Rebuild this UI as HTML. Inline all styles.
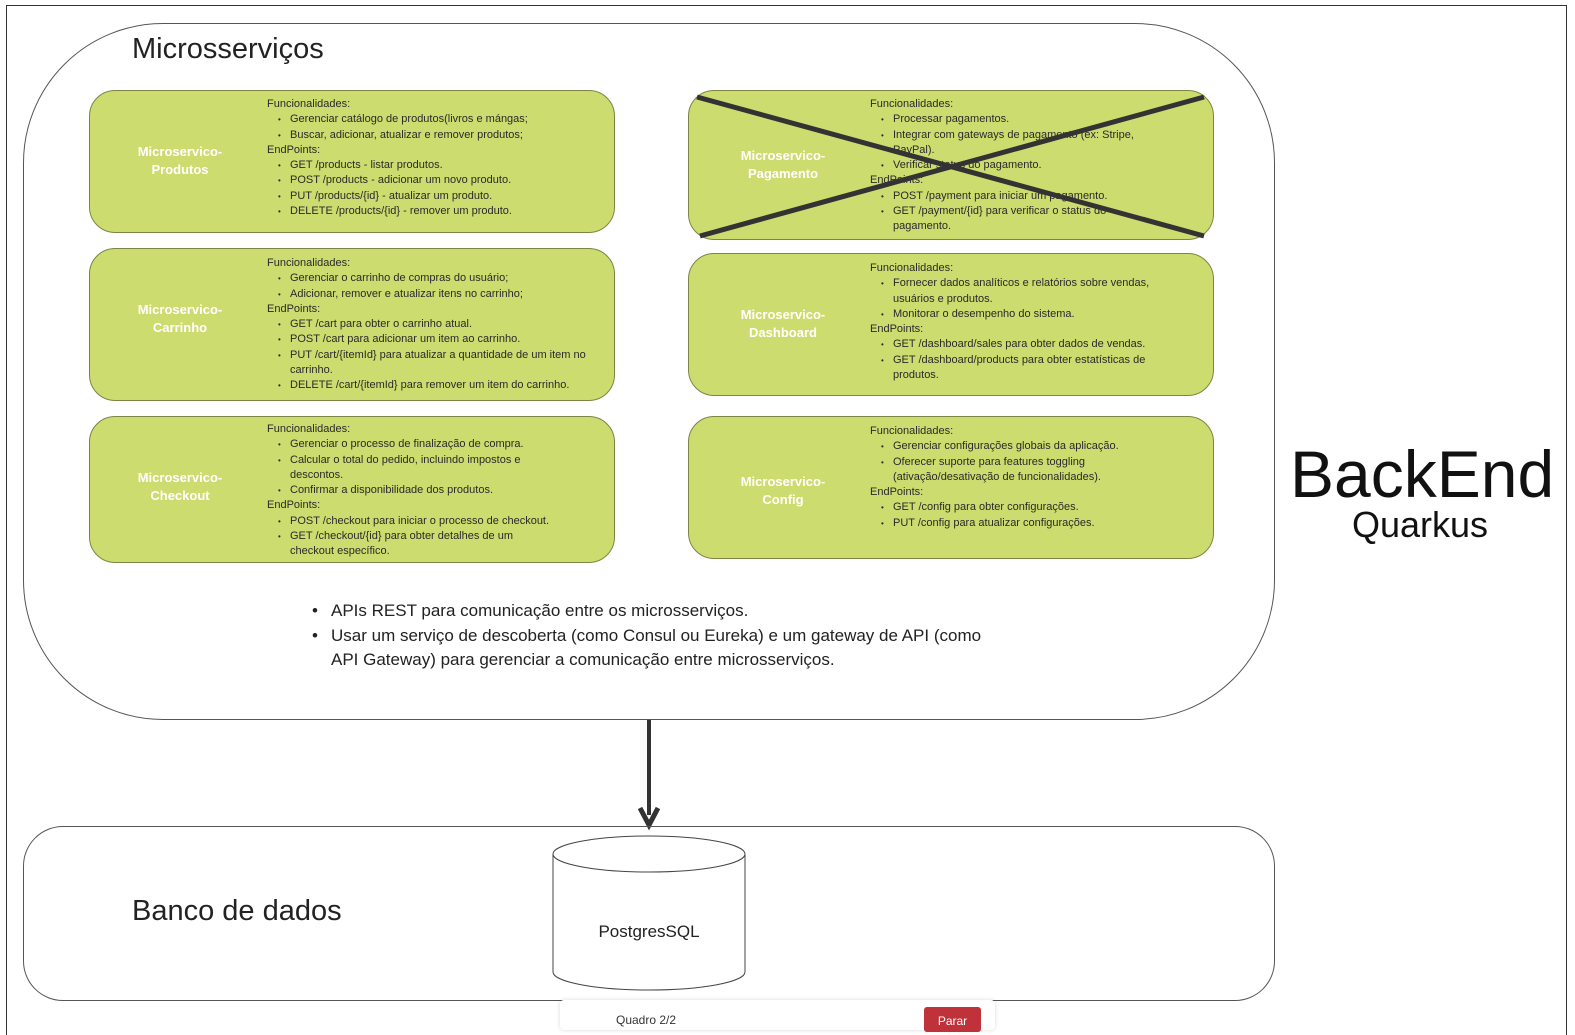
<!DOCTYPE html>
<html><head><meta charset="utf-8"><style>
*{margin:0;padding:0;box-sizing:border-box}
body{width:1575px;height:1027px;background:#fff;position:relative;overflow:hidden;font-family:"Liberation Sans","DejaVu Sans",sans-serif;color:#222}
.a{position:absolute}
.box{position:absolute;background:#cddc6f;border:1px solid #7d8544;border-radius:26px}
.lab{position:absolute;color:#fff;font-weight:bold;font-size:13px;text-align:center;line-height:18px;width:180px}
.txt{position:absolute;font-size:11px;line-height:15.3px;color:#2a2a2a;white-space:nowrap}
.txt .b{padding-left:23px;position:relative}
.txt .b:before{content:"•";position:absolute;left:11px;font-size:8px}
.txt .c{padding-left:23px}
</style></head><body>
<div class="a" style="left:6px;top:5px;width:1561px;height:1030px;border:1.5px solid #333;border-bottom:none"></div>
<div class="a" style="left:23px;top:23px;width:1252px;height:697px;border:1px solid #555;border-radius:140px"></div>
<div class="a" style="left:132px;top:33px;font-size:29px;color:#222">Microsserviços</div>

<div class="box" style="left:89px;top:90px;width:526px;height:143px"></div>
<div class="lab" style="left:90px;top:143px">Microservico-<br>Produtos</div>
<div class="txt" style="left:267px;top:97px"><div>Funcionalidades:</div><div class="b">Gerenciar catálogo de produtos(livros e mángas;</div><div class="b">Buscar, adicionar, atualizar e remover produtos;</div><div>EndPoints:</div><div class="b">GET /products - listar produtos.</div><div class="b">POST /products - adicionar um novo produto.</div><div class="b">PUT /products/{id} - atualizar um produto.</div><div class="b">DELETE /products/{id} - remover um produto.</div></div>

<div class="box" style="left:89px;top:248px;width:526px;height:153px"></div>
<div class="lab" style="left:90px;top:301px">Microservico-<br>Carrinho</div>
<div class="txt" style="left:267px;top:256px"><div>Funcionalidades:</div><div class="b">Gerenciar o carrinho de compras do usuário;</div><div class="b">Adicionar, remover e atualizar itens no carrinho;</div><div>EndPoints:</div><div class="b">GET /cart para obter o carrinho atual.</div><div class="b">POST /cart para adicionar um item ao carrinho.</div><div class="b">PUT /cart/{itemId} para atualizar a quantidade de um item no</div><div class="c">carrinho.</div><div class="b">DELETE /cart/{itemId} para remover um item do carrinho.</div></div>

<div class="box" style="left:89px;top:416px;width:526px;height:147px"></div>
<div class="lab" style="left:90px;top:469px">Microservico-<br>Checkout</div>
<div class="txt" style="left:267px;top:422px"><div>Funcionalidades:</div><div class="b">Gerenciar o processo de finalização de compra.</div><div class="b">Calcular o total do pedido, incluindo impostos e</div><div class="c">descontos.</div><div class="b">Confirmar a disponibilidade dos produtos.</div><div>EndPoints:</div><div class="b">POST /checkout para iniciar o processo de checkout.</div><div class="b">GET /checkout/{id} para obter detalhes de um</div><div class="c">checkout específico.</div></div>

<div class="box" style="left:688px;top:90px;width:526px;height:150px"></div>
<div class="lab" style="left:693px;top:147px">Microservico-<br>Pagamento</div>
<div class="txt" style="left:870px;top:97px"><div>Funcionalidades:</div><div class="b">Processar pagamentos.</div><div class="b">Integrar com gateways de pagamento (ex: Stripe,</div><div class="c">PayPal).</div><div class="b">Verificar status do pagamento.</div><div>EndPoints:</div><div class="b">POST /payment para iniciar um pagamento.</div><div class="b">GET /payment/{id} para verificar o status do</div><div class="c">pagamento.</div></div>

<div class="box" style="left:688px;top:253px;width:526px;height:143px"></div>
<div class="lab" style="left:693px;top:306px">Microservico-<br>Dashboard</div>
<div class="txt" style="left:870px;top:261px"><div>Funcionalidades:</div><div class="b">Fornecer dados analíticos e relatórios sobre vendas,</div><div class="c">usuários e produtos.</div><div class="b">Monitorar o desempenho do sistema.</div><div>EndPoints:</div><div class="b">GET /dashboard/sales para obter dados de vendas.</div><div class="b">GET /dashboard/products para obter estatísticas de</div><div class="c">produtos.</div></div>

<div class="box" style="left:688px;top:416px;width:526px;height:143px"></div>
<div class="lab" style="left:693px;top:473px">Microservico-<br>Config</div>
<div class="txt" style="left:870px;top:424px"><div>Funcionalidades:</div><div class="b">Gerenciar configurações globais da aplicação.</div><div class="b">Oferecer suporte para features toggling</div><div class="c">(ativação/desativação de funcionalidades).</div><div>EndPoints:</div><div class="b">GET /config para obter configurações.</div><div class="b">PUT /config para atualizar configurações.</div></div>

<svg class="a" style="left:0;top:0" width="1575" height="1027">
<line x1="697" y1="97" x2="1204" y2="236" stroke="#333" stroke-width="5"/>
<line x1="700" y1="236" x2="1204" y2="97" stroke="#333" stroke-width="5"/>
<line x1="649" y1="720" x2="649" y2="815" stroke="#333" stroke-width="4"/>
<path d="M640 808 L649 825 L658 808" fill="none" stroke="#333" stroke-width="5"/>
<path d="M553 854 L553 972 A96 18 0 0 0 745 972 L745 854" fill="#fff" stroke="#444" stroke-width="1"/>
<ellipse cx="649" cy="854" rx="96" ry="18" fill="#fff" stroke="#444" stroke-width="1"/>
</svg>

<div class="a" style="left:312px;top:599px;font-size:17px;line-height:24.5px;color:#222">
<div style="position:relative;padding-left:19px"><span style="position:absolute;left:0">•</span>APIs REST para comunicação entre os microsserviços.</div>
<div style="position:relative;padding-left:19px"><span style="position:absolute;left:0">•</span>Usar um serviço de descoberta (como Consul ou Eureka) e um gateway de API (como<br>API Gateway) para gerenciar a comunicação entre microsserviços.</div>
</div>

<div class="a" style="left:1290px;top:436px;font-size:66px;line-height:76px;color:#111">BackEnd</div>
<div class="a" style="left:1352px;top:505px;font-size:36px;line-height:40px;color:#111">Quarkus</div>

<div class="a" style="left:23px;top:826px;width:1252px;height:175px;border:1px solid #555;border-radius:40px;background:transparent"></div>
<div class="a" style="left:132px;top:895px;font-size:29px;color:#222">Banco de dados</div>
<div class="a" style="left:553px;top:922px;width:192px;text-align:center;font-size:17px;color:#222">PostgresSQL</div>

<div class="a" style="left:560px;top:1000px;width:435px;height:30px;background:#fff;box-shadow:0 0 4px rgba(0,0,0,.15);border-radius:4px"></div>
<div class="a" style="left:616px;top:1013px;font-size:12px;color:#333">Quadro 2/2</div>
<div class="a" style="left:924px;top:1007px;width:57px;height:25px;background:#c0323a;border-radius:3px;color:#fff;font-size:12px;text-align:center;padding-top:7px">Parar</div>
</body></html>
